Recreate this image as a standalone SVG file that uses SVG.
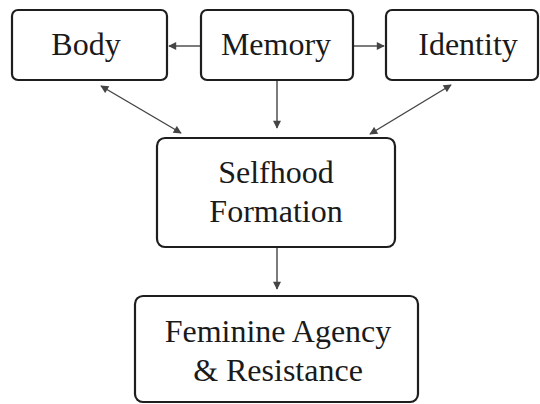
<svg xmlns="http://www.w3.org/2000/svg" width="540" height="404" viewBox="0 0 540 404">
<style>
.box{fill:#fff;stroke:#1e1e1e;stroke-width:2.2}
.lbl{font-family:"Liberation Serif","DejaVu Serif",serif;fill:#1a1a1a;text-anchor:middle}
.top{font-size:32px}
.mid{font-size:32px}
.con{stroke:#444;stroke-width:1.4;fill:none}
</style>
<defs>
<marker id="ah" viewBox="0 0 10 10" refX="9" refY="5" markerWidth="10" markerHeight="8" markerUnits="userSpaceOnUse" orient="auto-start-reverse">
<path d="M0,0 L10,5 L0,10 z" fill="#444"/>
</marker>
</defs>
<rect width="540" height="404" fill="#fff"/>
<g id="connectors">
<line class="con" x1="201" y1="46" x2="169" y2="46" marker-end="url(#ah)"/>
<line class="con" x1="353" y1="46" x2="384" y2="46" marker-end="url(#ah)"/>
<line class="con" x1="277" y1="80" x2="277" y2="128" marker-end="url(#ah)"/>
<line class="con" x1="101" y1="86" x2="181" y2="133" marker-start="url(#ah)" marker-end="url(#ah)"/>
<line class="con" x1="451" y1="85" x2="370" y2="134" marker-start="url(#ah)" marker-end="url(#ah)"/>
<line class="con" x1="277" y1="248" x2="277" y2="289" marker-end="url(#ah)"/>
</g>
<g id="body">
<rect class="box" x="12" y="10" width="155" height="70" rx="6"/>
<text class="lbl top" x="86" y="55">Body</text>
</g>
<g id="memory">
<rect class="box" x="201" y="10" width="152" height="70" rx="6"/>
<text class="lbl top" x="276" y="55">Memory</text>
</g>
<g id="identity">
<rect class="box" x="386" y="10" width="152" height="70" rx="6"/>
<text class="lbl top" x="468" y="55">Identity</text>
</g>
<g id="selfhood">
<rect class="box" x="157" y="138" width="238" height="109" rx="8"/>
<text class="lbl mid" x="276" y="183">Selfhood</text>
<text class="lbl mid" x="276" y="222">Formation</text>
</g>
<g id="feminine">
<rect class="box" x="135" y="296" width="283" height="106" rx="8"/>
<text class="lbl mid" x="278" y="342">Feminine Agency</text>
<text class="lbl mid" x="278" y="381">&amp; Resistance</text>
</g>
</svg>
